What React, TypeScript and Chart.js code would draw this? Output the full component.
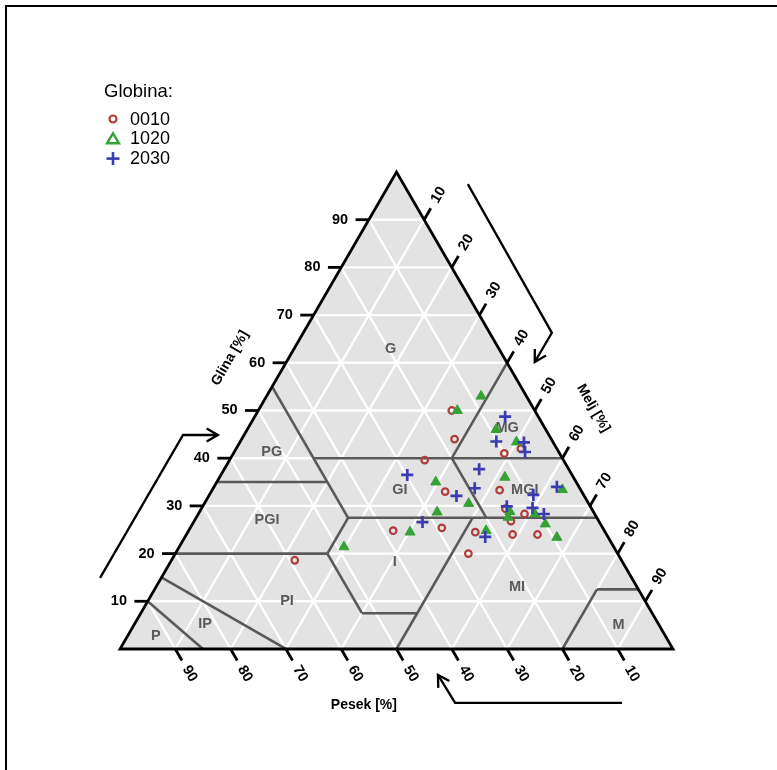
import React, { useEffect, useRef } from 'react';
import { Chart, registerables } from 'chart.js';

Chart.register(...registerables);

// Soil samples by depth: Glina (clay) and Melj (silt) in %; Pesek (sand) = 100 - glina - melj
const glina0010 = [50, 44, 39.6, 41, 42, 33, 33.3, 29.4, 28.3, 26.8, 25.4, 24.5, 24, 24, 20, 18.6, 24.8];
const melj0010 = [35, 38.5, 35.3, 49, 51.5, 42.3, 52, 55, 59, 57.3, 45.5, 52, 59, 63.5, 53, 22.3, 37];

const glina1020 = [53, 50, 46, 43.4, 36, 35, 30.5, 28.7, 27.6, 28.8, 28.3, 26.2, 24.5, 24.8, 23.4, 33.4, 21.4];
const melj1020 = [38.8, 36, 45, 50, 51.6, 39.6, 47.8, 43, 56.4, 56.1, 60.9, 63.8, 40.2, 53.8, 67.3, 63.3, 29.8];

const glina2030 = [48.7, 43.5, 43.3, 41.3, 37.7, 36.5, 33.7, 32.1, 34, 32.3, 29.9, 29.6, 28.3, 26.6, 23.5];
const melj2030 = [45.3, 46.3, 51.4, 52.6, 46.1, 33.7, 47.3, 44.8, 62, 58.6, 55, 59.8, 62.5, 41.4, 54.3];

const seriesNames = ['0010', '1020', '2030'];
const legendTitle = 'Globina:';
const tickValues = [10, 20, 30, 40, 50, 60, 70, 80, 90];

// Texture classes: label text and its place (glina, melj)
const classNames = ['G', 'MG', 'PG', 'GI', 'MGI', 'PGI', 'I', 'MI', 'PI', 'P', 'IP', 'M'];
const classGlina = [62.9, 46.3, 41.3, 33.4, 33.4, 27.0, 18.2, 13.0, 10.0, 2.8, 5.2, 5.1];
const classMelj = [17.5, 46.85, 6.8, 33.9, 56.5, 13.1, 40.6, 65.3, 25.2, 5.1, 12.8, 87.6];

// Class boundaries as segments between [pesek, melj, glina] points
const classBoundaries: number[][][] = [
  [[45, 15, 40], [0, 60, 40]],
  [[45, 0, 55], [45, 27.5, 27.5]],
  [[20, 40, 40], [0, 40, 60]],
  [[65, 0, 35], [45, 20, 35]],
  [[45, 27.5, 27.5], [0, 72.5, 27.5]],
  [[20, 40, 40], [20, 52.5, 27.5]],
  [[80, 0, 20], [52.5, 27.5, 20]],
  [[45, 27.5, 27.5], [52.5, 27.5, 20]],
  [[52.5, 27.5, 20], [52.5, 40, 7.5]],
  [[52.5, 40, 7.5], [42.5, 50, 7.5]],
  [[22.5, 50, 27.5], [50, 50, 0]],
  [[85, 0, 15], [70, 30, 0]],
  [[90, 0, 10], [85, 15, 0]],
  [[7.5, 80, 12.5], [0, 87.5, 12.5]],
  [[7.5, 80, 12.5], [20, 80, 0]],
];

const H = Math.sqrt(3) / 2;
const toXY = (glina: number, melj: number) => ({ x: melj + glina / 2, y: glina * H });

const RED = '#b03c3c';
const GREEN = '#34a234';
const BLUE = '#3b3bb2';
const FONT = '"Liberation Sans", Arial, sans-serif';

// Direction arrows beside each axis (plot units)
const arrowPaths: number[][][] = [
  [[-3.6, 12.9], [11.4, 38.85], [17.7, 38.85]],
  [[62.9, 84.4], [78.1, 57.4], [75.0, 52.1]],
  [[90.8, -9.8], [60.6, -9.8], [57.5, -4.7]],
];

const ternaryPlugin = {
  id: 'ternaryFrame',
  beforeDatasetsDraw(chart: any) {
    const { ctx } = chart;
    const sx = chart.scales.x;
    const sy = chart.scales.y;
    const P = (u: number, v: number): [number, number] => [sx.getPixelForValue(u), sy.getPixelForValue(v)];
    const T = (glina: number, melj: number) => {
      const p = toXY(glina, melj);
      return P(p.x, p.y);
    };
    const line = (a: [number, number], b: [number, number]) => {
      ctx.beginPath();
      ctx.moveTo(a[0], a[1]);
      ctx.lineTo(b[0], b[1]);
      ctx.stroke();
    };

    ctx.save();
    const A = T(0, 0);
    const B = T(0, 100);
    const C = T(100, 0);

    // background
    ctx.fillStyle = '#e3e3e3';
    ctx.beginPath();
    ctx.moveTo(A[0], A[1]);
    ctx.lineTo(B[0], B[1]);
    ctx.lineTo(C[0], C[1]);
    ctx.closePath();
    ctx.fill();

    // white grid
    ctx.strokeStyle = '#ffffff';
    ctx.lineWidth = 2.4;
    for (const v of tickValues) {
      line(T(v, 0), T(v, 100 - v));
      line(T(0, v), T(100 - v, v));
      line(T(0, 100 - v), T(100 - v, 0));
    }

    // class boundaries
    ctx.strokeStyle = '#595959';
    ctx.lineWidth = 2.6;
    for (const seg of classBoundaries) {
      const [p1, p2] = seg;
      line(T(p1[2], p1[1]), T(p2[2], p2[1]));
    }

    // class labels
    ctx.fillStyle = '#5a5a5a';
    ctx.font = `bold 14.5px ${FONT}`;
    ctx.textAlign = 'center';
    ctx.textBaseline = 'middle';
    classNames.forEach((name, i) => {
      const p = T(classGlina[i], classMelj[i]);
      ctx.fillText(name, p[0], p[1]);
    });

    // outline
    ctx.strokeStyle = '#000000';
    ctx.lineWidth = 2.8;
    ctx.lineJoin = 'miter';
    ctx.beginPath();
    ctx.moveTo(A[0], A[1]);
    ctx.lineTo(B[0], B[1]);
    ctx.lineTo(C[0], C[1]);
    ctx.closePath();
    ctx.stroke();

    // ticks and tick labels
    const tickLen = 2.4;
    const labelOff = 5.2;
    ctx.fillStyle = '#000000';
    ctx.font = `bold 14.5px ${FONT}`;
    const drawTick = (edge: { x: number; y: number }, dx: number, dy: number, text: string, rot: number) => {
      ctx.lineWidth = 2.8;
      line(P(edge.x, edge.y), P(edge.x + dx * tickLen, edge.y + dy * tickLen));
      const lp = P(edge.x + dx * labelOff, edge.y + dy * labelOff);
      ctx.save();
      ctx.translate(lp[0], lp[1]);
      ctx.rotate(rot);
      ctx.fillText(text, 0, 0);
      ctx.restore();
    };
    for (const v of tickValues) {
      drawTick(toXY(v, 0), -1, 0, String(v), 0);
      drawTick(toXY(100 - v, v), 0.5, H, String(v), -Math.PI / 3);
      drawTick(toXY(0, 100 - v), 0.5, -H, String(v), Math.PI / 3);
    }

    // axis titles
    ctx.font = `bold 14px ${FONT}`;
    const title = (text: string, u: number, v: number, rot: number) => {
      const p = P(u, v);
      ctx.save();
      ctx.translate(p[0], p[1]);
      ctx.rotate(rot);
      ctx.fillText(text, 0, 0);
      ctx.restore();
    };
    title('Glina [%]', 19.9, 52.8, -Math.PI / 3);
    title('Melj [%]', 85.6, 43.7, Math.PI / 3);
    title('Pesek [%]', 44.1, -10.2, 0);

    // arrows
    ctx.lineWidth = 2.3;
    ctx.lineJoin = 'miter';
    for (const path of arrowPaths) {
      const pts = path.map(([u, v]) => P(u, v));
      ctx.beginPath();
      ctx.moveTo(pts[0][0], pts[0][1]);
      for (let i = 1; i < pts.length; i++) ctx.lineTo(pts[i][0], pts[i][1]);
      ctx.stroke();
      const e = pts[pts.length - 1];
      const s = pts[pts.length - 2];
      const ang = Math.atan2(e[1] - s[1], e[0] - s[0]);
      const hl = 13;
      ctx.beginPath();
      ctx.moveTo(e[0] - hl * Math.cos(ang - Math.PI / 6), e[1] - hl * Math.sin(ang - Math.PI / 6));
      ctx.lineTo(e[0], e[1]);
      ctx.lineTo(e[0] - hl * Math.cos(ang + Math.PI / 6), e[1] - hl * Math.sin(ang + Math.PI / 6));
      ctx.stroke();
    }

    // legend
    ctx.textAlign = 'left';
    ctx.textBaseline = 'middle';
    ctx.fillStyle = '#000000';
    ctx.font = `18.5px ${FONT}`;
    ctx.fillText(legendTitle, 104, 92);
    ctx.font = `18px ${FONT}`;
    const rowY = [120, 139.3, 158.6];
    const mx = 113;
    seriesNames.forEach((name, i) => {
      const y = rowY[i];
      ctx.fillStyle = '#000000';
      ctx.fillText(name, 130, y);
      if (i === 0) {
        ctx.strokeStyle = RED;
        ctx.lineWidth = 2.2;
        ctx.beginPath();
        ctx.arc(mx, y - 1, 3.5, 0, Math.PI * 2);
        ctx.stroke();
      } else if (i === 1) {
        ctx.strokeStyle = GREEN;
        ctx.lineWidth = 2.4;
        ctx.beginPath();
        ctx.moveTo(mx, y - 6);
        ctx.lineTo(mx + 6, y + 4);
        ctx.lineTo(mx - 6, y + 4);
        ctx.closePath();
        ctx.stroke();
      } else {
        ctx.strokeStyle = BLUE;
        ctx.lineWidth = 2.6;
        line([mx - 6.5, y], [mx + 6.5, y]);
        line([mx, y - 6.5], [mx, y + 6.5]);
      }
    });

    ctx.restore();
  },
};

export default function App() {
  const canvasRef = useRef<HTMLCanvasElement | null>(null);

  useEffect(() => {
    document.body.style.margin = '0';
    const canvas = canvasRef.current;
    if (!canvas) return;
    const mk = (g: number[], m: number[]) => g.map((v, i) => toXY(v, m[i]));
    const chart = new Chart(canvas, {
      type: 'scatter',
      data: {
        datasets: [
          {
            label: seriesNames[0],
            data: mk(glina0010, melj0010),
            pointStyle: 'circle',
            pointRadius: 3.3,
            borderWidth: 2.2,
            borderColor: RED,
            backgroundColor: 'rgba(0,0,0,0)',
            order: 3,
          },
          {
            label: seriesNames[1],
            data: mk(glina1020, melj1020),
            pointStyle: 'triangle',
            pointRadius: 5.8,
            borderWidth: 1,
            borderColor: GREEN,
            backgroundColor: GREEN,
            order: 2,
          },
          {
            label: seriesNames[2],
            data: mk(glina2030, melj2030),
            pointStyle: 'cross',
            pointRadius: 6,
            borderWidth: 2.7,
            borderColor: BLUE,
            backgroundColor: BLUE,
            order: 1,
          },
        ],
      },
      options: {
        responsive: false,
        animation: false,
        events: [],
        layout: { padding: 0, autoPadding: false },
        plugins: { legend: { display: false }, tooltip: { enabled: false } },
        scales: {
          x: { type: 'linear', display: false, min: -21.7, max: 118.81 },
          y: { type: 'linear', display: false, min: -21.97, max: 117.83 },
        },
      },
      plugins: [ternaryPlugin],
    });
    return () => chart.destroy();
  }, []);

  return (
    <div style={{ position: 'relative', width: 777, height: 770, background: '#ffffff' }}>
      <canvas ref={canvasRef} width={777} height={770} style={{ display: 'block' }} />
      <div
        style={{
          position: 'absolute',
          left: 5,
          top: 5,
          right: 0,
          bottom: 0,
          borderTop: '2px solid #000',
          borderLeft: '2px solid #000',
          pointerEvents: 'none',
        }}
      />
    </div>
  );
}
